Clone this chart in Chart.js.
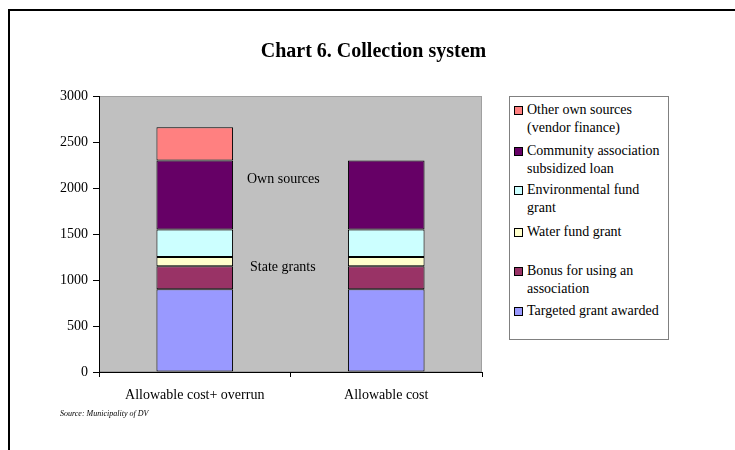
<!DOCTYPE html>
<html>
<head>
<meta charset="utf-8">
<script src="https://cdn.jsdelivr.net/npm/chart.js@4.4.1/dist/chart.umd.min.js"></script>
<style>
  body { margin:0; width:735px; height:450px; position:relative; background:#fff; overflow:hidden; font-family:'Liberation Serif','Times New Roman',serif; color:#000; }
  #frame { position:absolute; left:8px; top:9px; width:760px; height:480px; border-left:2px solid #000; border-top:2px solid #000; }
  #c { position:absolute; left:0; top:0; }
  .t { position:absolute; white-space:nowrap; }
  #title { left:6px; width:735px; top:39px; text-align:center; font-weight:bold; font-size:20px; }
  #legend { position:absolute; left:509px; top:96px; width:158px; height:242px; border:1px solid #808080; background:#fff; }
  .item { position:absolute; left:17px; font-size:14px; line-height:18px; }
  .sw { position:absolute; left:4px; width:7px; height:7px; border:1px solid #000; }
  .ann { position:absolute; font-size:14px; white-space:nowrap; }
  #src { left:60px; top:409px; font-size:8px; font-style:italic; }
</style>
</head>
<body>
<div id="frame"></div>
<canvas id="c" width="735" height="450"></canvas>
<div class="t" id="title">Chart 6. Collection system</div>
<div id="legend"></div>
<div class="ann" style="left:247px; top:171px;">Own sources</div>
<div class="ann" style="left:250px; top:259px;">State grants</div>
<div class="t" id="src">Source: Municipality of DV</div>
<script>
const categories = ['Allowable cost+ overrun', 'Allowable cost'];
const yTicks = [0, 500, 1000, 1500, 2000, 2500, 3000];
const targetedGrant = [900, 900];
const bonusAssociation = [250, 250];
const waterFund = [100, 100];
const environmentalFund = [300, 300];
const communityLoan = [750, 750];
const otherOwnSources = [360, 0];

const seriesNames = ['Targeted grant awarded', 'Bonus for using an association', 'Water fund grant', 'Environmental fund grant', 'Community association subsidized loan', 'Other own sources (vendor finance)'];
const seriesData = [targetedGrant, bonusAssociation, waterFund, environmentalFund, communityLoan, otherOwnSources];
const seriesColors = ['#9999FF', '#993366', '#FFFFCC', '#CCFFFF', '#660066', '#FF8080'];

// legend (top to bottom), lines as in the reference
const legendItems = [
  { lines: ['Other own sources', '(vendor finance)'], color: '#FF8080', top: 4 },
  { lines: ['Community association', 'subsidized loan'], color: '#660066', top: 45 },
  { lines: ['Environmental fund', 'grant'], color: '#CCFFFF', top: 84 },
  { lines: ['Water fund grant'], color: '#FFFFCC', top: 126 },
  { lines: ['Bonus for using an', 'association'], color: '#993366', top: 165 },
  { lines: ['Targeted grant awarded'], color: '#9999FF', top: 205 }
];
const lg = document.getElementById('legend');
legendItems.forEach(it => {
  const sw = document.createElement('div');
  sw.className = 'sw';
  sw.style.top = (it.top + 5) + 'px';
  sw.style.background = it.color;
  lg.appendChild(sw);
  const d = document.createElement('div');
  d.className = 'item';
  d.style.top = it.top + 'px';
  d.innerHTML = it.lines.join('<br>');
  lg.appendChild(d);
});

const plotBg = {
  id: 'plotBg',
  beforeDraw(chart) {
    const { ctx, chartArea: a } = chart;
    ctx.save();
    ctx.fillStyle = '#C0C0C0';
    ctx.fillRect(a.left, a.top, a.right - a.left, a.bottom - a.top);
    ctx.strokeStyle = '#A0A0A0';
    ctx.lineWidth = 1;
    ctx.strokeRect(a.left + 0.5, a.top + 0.5, a.right - a.left - 1, a.bottom - a.top - 1);
    ctx.restore();
  }
};

new Chart(document.getElementById('c'), {
  type: 'bar',
  data: {
    labels: categories,
    datasets: seriesNames.map((n, i) => ({
      label: n,
      data: seriesData[i],
      backgroundColor: seriesColors[i],
      borderColor: '#000',
      borderWidth: 1,
      borderSkipped: false,
      barPercentage: 0.4,
      categoryPercentage: 1.0
    }))
  },
  options: {
    responsive: false,
    animation: false,
    layout: { padding: { top: 96, right: 253, left: 0, bottom: 0 } },
    plugins: { legend: { display: false }, tooltip: { enabled: false }, title: { display: false } },
    scales: {
      x: {
        stacked: true,
        afterFit(s) { s.height = 78; },
        grid: { display: true, offset: true, drawOnChartArea: false, tickLength: 5, color: '#000' },
        border: { display: true, color: '#000', width: 1 },
        ticks: { color: '#000', padding: 10, font: { family: "'Liberation Serif'", size: 14 }, maxRotation: 0 }
      },
      y: {
        stacked: true,
        min: 0, max: 3000,
        afterFit(s) { s.width = 99; },
        afterBuildTicks(s) { s.ticks = yTicks.map(v => ({ value: v })); },
        grid: { display: true, drawOnChartArea: false, tickLength: 6, color: '#000' },
        border: { display: true, color: '#000', width: 1 },
        ticks: { color: '#000', padding: 5, font: { family: "'Liberation Serif'", size: 14 }, callback: v => String(v) }
      }
    }
  },
  plugins: [plotBg]
});
</script>
</body>
</html>
